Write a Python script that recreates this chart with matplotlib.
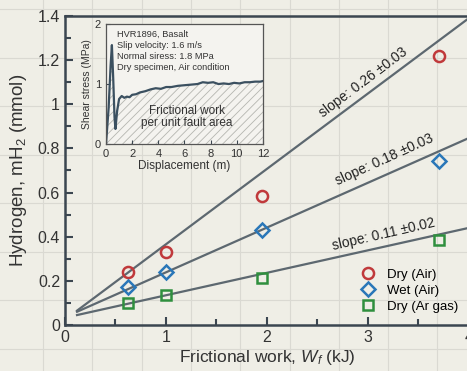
import numpy as np
import matplotlib
matplotlib.use("Agg")
import matplotlib.pyplot as plt

plt.rcParams['font.family'] = ['Liberation Sans', 'DejaVu Sans']
plt.rcParams['mathtext.fontset'] = 'custom'
plt.rcParams['mathtext.rm'] = 'Liberation Sans'
plt.rcParams['mathtext.it'] = 'Liberation Sans:italic'
plt.rcParams['hatch.linewidth'] = 0.6

# hydrogen vs frictional work
work = [0.62, 1.0, 1.95, 3.7]
dry_air = [0.24, 0.33, 0.585, 1.22]
wet_air = [0.17, 0.24, 0.43, 0.745]
dry_ar = [0.10, 0.135, 0.215, 0.385]

# fitted lines (end points)
fit_x = [0.12, 4.0]
fit_dry_air = [0.065, 1.39]
fit_wet_air = [0.06, 0.847]
fit_dry_ar = [0.045, 0.44]
slope_labels = ['slope: 0.26 \u00b10.03', 'slope: 0.18 \u00b10.03', 'slope: 0.11 \u00b10.02']

# inset: shear stress vs displacement
disp = [0, 0.2, 0.35, 0.45, 0.55, 0.65, 0.72, 0.85, 1.0, 1.2, 1.4, 1.6, 1.8, 2.0,
        2.3, 2.6, 3.0, 3.4, 3.8, 4.2, 4.6, 5.0, 5.5, 6.0, 6.5, 7.0, 7.4, 7.8, 8.2,
        8.6, 9.0, 9.4, 9.8, 10.2, 10.6, 11.0, 11.4, 11.8, 12.0]
stress = [0, 0.6, 1.3, 1.65, 1.1, 0.45, 0.25, 0.55, 0.75, 0.80, 0.77, 0.79, 0.78, 0.82,
          0.83, 0.86, 0.88, 0.91, 0.93, 0.92, 0.95, 0.95, 0.97, 0.98, 0.99, 1.0, 1.03,
          1.02, 1.03, 1.0, 1.01, 1.0, 1.02, 1.01, 1.03, 1.03, 1.04, 1.04, 1.05]

paper = '#efeee6'
ink = '#3b4650'
line_col = '#5d6870'

fig = plt.figure(figsize=(4.67, 3.71), dpi=100, facecolor=paper)

# graph paper background
bg = fig.add_axes([0, 0, 1, 1], zorder=-5)
bg.set_xlim(0, 467)
bg.set_ylim(371, 0)
bg.set_facecolor(paper)
for gx in np.arange(43, 467, 49.3):
    bg.axvline(gx, color='#dad9d2', lw=0.8)
for gy in np.arange(9, 371, 48.5):
    bg.axhline(gy, color='#dad9d2', lw=0.8)
bg.axis('off')

ax = fig.add_axes([0.139, 0.124, 0.865, 0.833])
ax.patch.set_alpha(0)
ax.set_xlim(0, 4)
ax.set_ylim(0, 1.4)

ax.plot(fit_x, fit_dry_air, color=line_col, lw=1.6, zorder=2)
ax.plot(fit_x, fit_wet_air, color=line_col, lw=1.6, zorder=2)
ax.plot(fit_x, fit_dry_ar, color=line_col, lw=1.6, zorder=2)

ax.plot(work, dry_air, 'o', ms=8, mfc='none', mec='#c0393b', mew=1.8, label='Dry (Air)', zorder=3)
ax.plot(work, wet_air, 'D', ms=7, mfc='none', mec='#2a77b8', mew=1.8, label='Wet (Air)', zorder=3)
ax.plot(work, dry_ar, 's', ms=7.5, mfc='none', mec='#2f8f3e', mew=1.8, label='Dry (Ar gas)', zorder=3)

ax.text(2.95, 1.097, slope_labels[0], rotation=37, ha='center', va='center', fontsize=10, color='#222222')
ax.text(3.16, 0.748, slope_labels[1], rotation=24.5, ha='center', va='center', fontsize=10, color='#222222')
ax.text(3.16, 0.412, slope_labels[2], rotation=13, ha='center', va='center', fontsize=10, color='#222222')

ax.set_xticks([0, 1, 2, 3, 4])
ax.set_xticks(np.arange(0.5, 4, 1), minor=True)
ax.set_yticks(np.arange(0, 1.41, 0.2))
ax.set_yticklabels(['0', '0.2', '0.4', '0.6', '0.8', '1', '1.2', '1.4'])
ax.set_yticks(np.arange(0.1, 1.4, 0.2), minor=True)
ax.tick_params(which='both', direction='in', color=ink, width=1.5, labelsize=11.5, labelcolor='#333333')
ax.tick_params(which='major', length=6)
ax.tick_params(which='minor', length=4)
for s in ax.spines.values():
    s.set_color(ink)
    s.set_linewidth(1.8)
ax.spines['right'].set_visible(False)

ax.set_xlabel(r'Frictional work, $W_f$ (kJ)', fontsize=12.5, color='#333333', labelpad=2)
ax.set_ylabel(r'Hydrogen, mH$_2$ (mmol)', fontsize=13.5, color='#333333', labelpad=6)

ax.legend(loc='upper left', bbox_to_anchor=(0.705, 0.20), frameon=False, fontsize=9.5,
          handletextpad=0.45, labelspacing=0.3, borderaxespad=0)

# inset
ins = fig.add_axes([0.227, 0.612, 0.336, 0.323])
ins.set_facecolor('#f4f3ef')
ins.fill_between(disp, stress, facecolor='none', hatch='////', edgecolor='#b5b5b0', lw=0)
ins.plot(disp, stress, color='#3b5060', lw=1.6)
ins.set_xlim(0, 12)
ins.set_ylim(0, 2)
ins.set_xticks(np.arange(0, 13, 2))
ins.set_yticks([0, 1, 2])
ins.tick_params(direction='in', labelsize=8, color=ink, labelcolor='#333333', length=3)
for s in ins.spines.values():
    s.set_color('#555555')
    s.set_linewidth(0.9)
ins.set_xlabel('Displacement (m)', fontsize=8.5, color='#333333', labelpad=1)
ins.set_ylabel('Shear stress (MPa)', fontsize=7.5, color='#333333', labelpad=2)
ins.text(0.84, 1.9, 'HVR1896, Basalt\nSlip velocity: 1.6 m/s\nNormal siress: 1.8 MPa\nDry specimen, Air condition',
         ha='left', va='top', fontsize=6.7, color='#333333', linespacing=1.3)
ins.text(6.2, 0.45, 'Frictional work\nper unit fault area', ha='center', va='center',
         fontsize=8.5, color='#333333', linespacing=1.1)

fig.savefig('out.png', dpi=100, facecolor=paper)
